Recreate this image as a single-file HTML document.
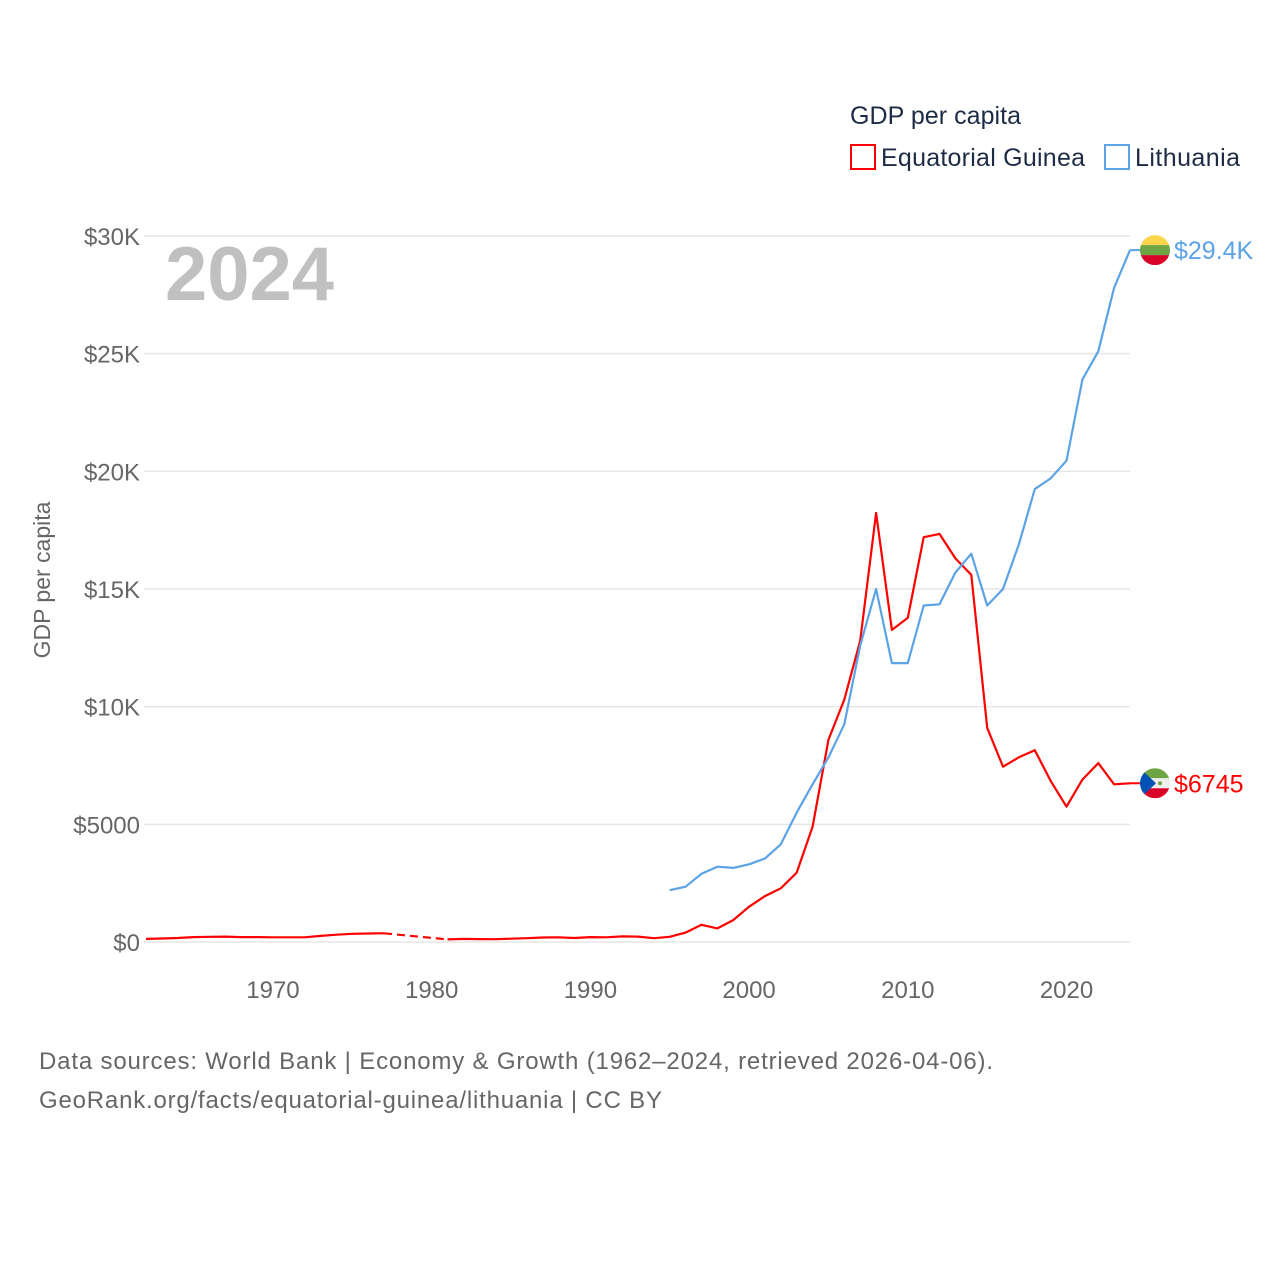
<!DOCTYPE html>
<html><head><meta charset="utf-8"><style>
body{margin:0;background:#fff;}
svg{display:block;font-family:"Liberation Sans",sans-serif;}
</style></head><body>
<svg id="chart" width="1280" height="1280" viewBox="0 0 1280 1280">
<rect width="1280" height="1280" fill="#fff"/>
<g id="grid"></g>
<g id="yticks"></g>
<g id="xticks"></g>
<text x="165" y="300" font-size="76" font-weight="bold" fill="#c0c0c0">2024</text>
<text transform="translate(50,580) rotate(-90)" text-anchor="middle" font-size="23" fill="#666">GDP per capita</text>
<g id="series"></g>
<g>
<text x="850" y="124" font-size="25" fill="#1e2b45" textLength="171">GDP per capita</text>
<g><rect x="851" y="145" width="24" height="24" fill="#fff" stroke="#ff0000" stroke-width="2"/><text x="881" y="166" font-size="25" fill="#1e2b45" textLength="204">Equatorial Guinea</text></g>
<g><rect x="1105" y="145" width="24" height="24" fill="#fff" stroke="#5ba3e6" stroke-width="2"/><text x="1135" y="166" font-size="25" fill="#1e2b45" textLength="105">Lithuania</text></g>
</g>
<g>
<text x="39" y="1069" font-size="24" fill="#666" textLength="954">Data sources: World Bank | Economy &amp; Growth (1962–2024, retrieved 2026-04-06).</text>
<text x="39" y="1108" font-size="24" fill="#666" textLength="623">GeoRank.org/facts/equatorial-guinea/lithuania | CC BY</text>
</g>
</svg>
<script>
const yTicks=[0,5000,10000,15000,20000,25000,30000];
const yTickLabels=["$0","$5000","$10K","$15K","$20K","$25K","$30K"];
const xTicks=[1970,1980,1990,2000,2010,2020];
const eqYears=[1962,1963,1964,1965,1966,1967,1968,1969,1970,1971,1972,1973,1974,1975,1976,1977,1981,1982,1983,1984,1985,1986,1987,1988,1989,1990,1991,1992,1993,1994,1995,1996,1997,1998,1999,2000,2001,2002,2003,2004,2005,2006,2007,2008,2009,2010,2011,2012,2013,2014,2015,2016,2017,2018,2019,2020,2021,2022,2023,2024];
const eqValues=[130,150,170,210,220,230,210,210,200,200,200,260,310,350,360,370,110,130,125,120,140,160,190,200,170,210,200,240,230,160,220,400,730,580,930,1500,1950,2280,2950,4900,8600,10300,12800,18230,13260,13770,17200,17340,16300,15600,9100,7450,7850,8150,6850,5750,6900,7600,6700,6745];
const ltYears=[1995,1996,1997,1998,1999,2000,2001,2002,2003,2004,2005,2006,2007,2008,2009,2010,2011,2012,2013,2014,2015,2016,2017,2018,2019,2020,2021,2022,2023,2024];
const ltValues=[2200,2350,2900,3200,3150,3300,3550,4150,5500,6700,7850,9250,12600,15000,11850,11850,14300,14350,15700,16500,14300,15000,16900,19250,19700,20450,23900,25100,27800,29400];
const NS='http://www.w3.org/2000/svg';
const X=yr=>146+(yr-1962)*(1130-146)/62;
const Y=v=>942-v*(942-236)/30000;
function mk(t,a,p){const e=document.createElementNS(NS,t);for(const k in a)e.setAttribute(k,a[k]);p.appendChild(e);return e;}
const grid=document.getElementById('grid'),yg=document.getElementById('yticks'),xg=document.getElementById('xticks'),sg=document.getElementById('series');
yTicks.forEach((v,i)=>{
 const l=mk('line',{x1:144,x2:1130,y1:Y(v),y2:Y(v),stroke:'#e6e6e6','stroke-width':1.5},grid);
 
 
 const t=mk('text',{x:140,y:Y(v)+9,'text-anchor':'end','font-size':24,fill:'#666'},yg);
 t.textContent=yTickLabels[i];
 
 
});
xTicks.forEach(yr=>{
 const t=mk('text',{x:X(yr),y:998,'text-anchor':'middle','font-size':24,fill:'#666'},xg);
 t.textContent=yr;
 
 
});
function draw(years,vals,color,name){
 let segs=[[]];
 for(let i=0;i<years.length;i++){
  if(i>0&&years[i]-years[i-1]>1){
   const d=mk('line',{x1:X(years[i-1]),y1:Y(vals[i-1]),x2:X(years[i]),y2:Y(vals[i]),stroke:color,'stroke-width':2.2,'stroke-dasharray':'8 5'},sg);
   
   
   segs.push([]);
  }
  segs[segs.length-1].push(X(years[i]).toFixed(1)+','+Y(vals[i]).toFixed(1));
 }
 segs.forEach(s=>{
  const p=mk('polyline',{points:s.join(' '),fill:'none',stroke:color,'stroke-width':2.2,'stroke-linejoin':'round'},sg);
  
  
 });
}
draw(eqYears,eqValues,'#ff0000','equatorial-guinea');
draw(ltYears,ltValues,'#5ba3e6','lithuania');
function flag(cx,cy,kind){
 const g=mk('g',{},sg);
 
 
 const id='c'+kind;
 const cp=mk('clipPath',{id:id},g);mk('circle',{cx:cx,cy:cy,r:15},cp);
 const gg=mk('g',{'clip-path':'url(#'+id+')'},g);
 if(kind==='lithuania'){
  mk('rect',{x:cx-15,y:cy-15,width:30,height:10,fill:'#fdd54a'},gg);
  mk('rect',{x:cx-15,y:cy-5,width:30,height:10,fill:'#6da544'},gg);
  mk('rect',{x:cx-15,y:cy+5,width:30,height:10,fill:'#d80027'},gg);
 }else{
  mk('rect',{x:cx-15,y:cy-15,width:30,height:10,fill:'#6da544'},gg);
  mk('rect',{x:cx-15,y:cy-5,width:30,height:10,fill:'#eeeeee'},gg);
  mk('rect',{x:cx-15,y:cy+5,width:30,height:10,fill:'#d80027'},gg);
  mk('polygon',{points:(cx-15)+','+(cy-15)+' '+(cx+1)+','+cy+' '+(cx-15)+','+(cy+15),fill:'#0052b4'},gg);
  mk('circle',{cx:cx+5,cy:cy,r:2,fill:'#6da544'},gg);
 }
}
const ltLast=ltValues[ltValues.length-1],eqLast=eqValues[eqValues.length-1];
[[ltLast,'#5ba3e6','lithuania','$'+(ltLast/1000).toFixed(1)+'K'],[eqLast,'#ff0000','equatorial-guinea','$'+eqLast]].forEach(([v,c,n,lab])=>{
 const y=Y(v);
 const l=mk('line',{x1:1130,x2:1141,y1:y,y2:y,stroke:c,'stroke-width':2},sg);
 
 
 flag(1155,y,n);
 const t=mk('text',{x:1174,y:y+9,'font-size':25,fill:c},sg);
 t.textContent=lab;
 
 
});
</script>
</body></html>
